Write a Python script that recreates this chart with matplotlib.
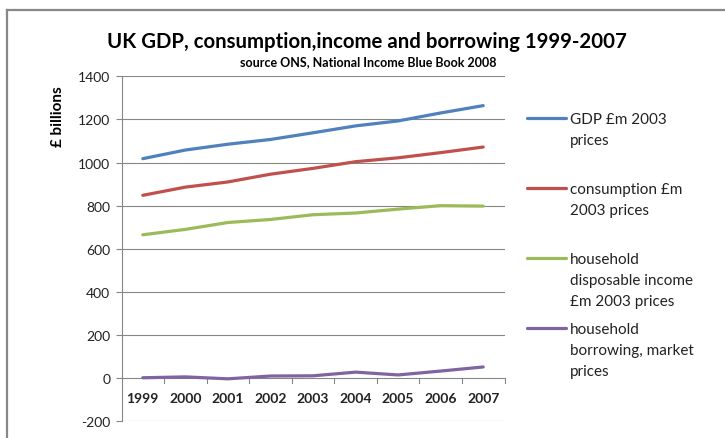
import matplotlib
matplotlib.use("Agg")
import matplotlib.pyplot as plt
from matplotlib.lines import Line2D

plt.rcParams["font.family"] = ["Lato", "DejaVu Sans"]

years = ["1999", "2000", "2001", "2002", "2003", "2004", "2005", "2006", "2007"]
gdp = [1018, 1058, 1085, 1107, 1138, 1170, 1193, 1230, 1264]
consumption = [848, 886, 910, 946, 973, 1004, 1022, 1046, 1072]
income = [665, 690, 722, 736, 758, 766, 784, 800, 798]
borrowing = [2, 6, -3, 10, 11, 28, 15, 33, 52]

labels = [
    "GDP £m 2003\nprices",
    "consumption £m\n2003 prices",
    "household\ndisposable income\n£m 2003 prices",
    "household\nborrowing, market\nprices",
]
colors = ["#4F81BD", "#C0504D", "#9BBB59", "#8064A2"]
yticks = [-200, 0, 200, 400, 600, 800, 1000, 1200, 1400]

W, H = 725, 439
fig = plt.figure(figsize=(W / 100, H / 100), dpi=100)
ax = fig.add_axes([121.5 / W, 1 - 422.3 / H, (504.5 - 121.5) / W, (422.3 - 77.3) / H])

x = list(range(len(years)))
for series, c in zip([gdp, consumption, income, borrowing], colors):
    ax.plot(x, series, color=c, lw=2.3, solid_capstyle="round", zorder=3)

grid_c = "#868686"
ax.set_xlim(-0.5, len(years) - 0.5)
ax.set_ylim(-200, 1400)
ax.set_yticks(yticks)
ax.set_yticklabels([str(v) for v in yticks], fontsize=10, color="#222222")
for v in yticks:
    if v != 0:
        ax.axhline(v, color=grid_c, lw=0.8, zorder=1)
ax.axhline(0, color=grid_c, lw=0.8, zorder=2)
ax.tick_params(axis="y", length=4, width=0.8, color=grid_c, pad=4)
for s in ["top", "right", "bottom"]:
    ax.spines[s].set_visible(False)
ax.spines["left"].set_color(grid_c)
ax.spines["left"].set_linewidth(0.8)
ax.set_xticks([])

# category ticks hanging from the zero line, year labels under them
for i in range(1, len(years) + 1):
    ax.plot([i - 0.5, i - 0.5], [0, -22], color=grid_c, lw=0.8, clip_on=False, zorder=2)
for i, yr in enumerate(years):
    ax.text(i, -93, yr, ha="center", va="center", fontsize=10, fontweight="bold", color="#222222")

fig.text(367 / W, 1 - 42 / H, "UK GDP, consumption,income and borrowing 1999-2007",
         ha="center", va="center", fontsize=14.7, fontweight="bold", color="black")
fig.text(368 / W, 1 - 62 / H, "source ONS, National Income Blue Book 2008",
         ha="center", va="center", fontsize=9, fontweight="bold", color="black")
fig.text(58 / W, 1 - 117 / H, "£ billions", rotation=90, ha="center", va="center",
         fontsize=11, fontweight="bold", color="black")

# legend
leg_y = [119, 189, 259, 329]
for lab, c, yy in zip(labels, colors, leg_y):
    fig.add_artist(Line2D([527 / W, 566 / W], [1 - yy / H, 1 - yy / H], color=c, lw=2.3,
                          solid_capstyle="round"))
    fig.text(570 / W, 1 - (yy - 6) / H, lab, ha="left", va="top", fontsize=11,
             color="#222222", linespacing=1.65)

# outer frame (left and top only visible)
fig.add_artist(Line2D([7 / W, 7 / W], [0, 1 - 10.5 / H], color="#888888", lw=1.6))
fig.add_artist(Line2D([7 / W, 1], [1 - 10.5 / H, 1 - 10.5 / H], color="#888888", lw=1.6))

fig.savefig("out.png", dpi=100)
